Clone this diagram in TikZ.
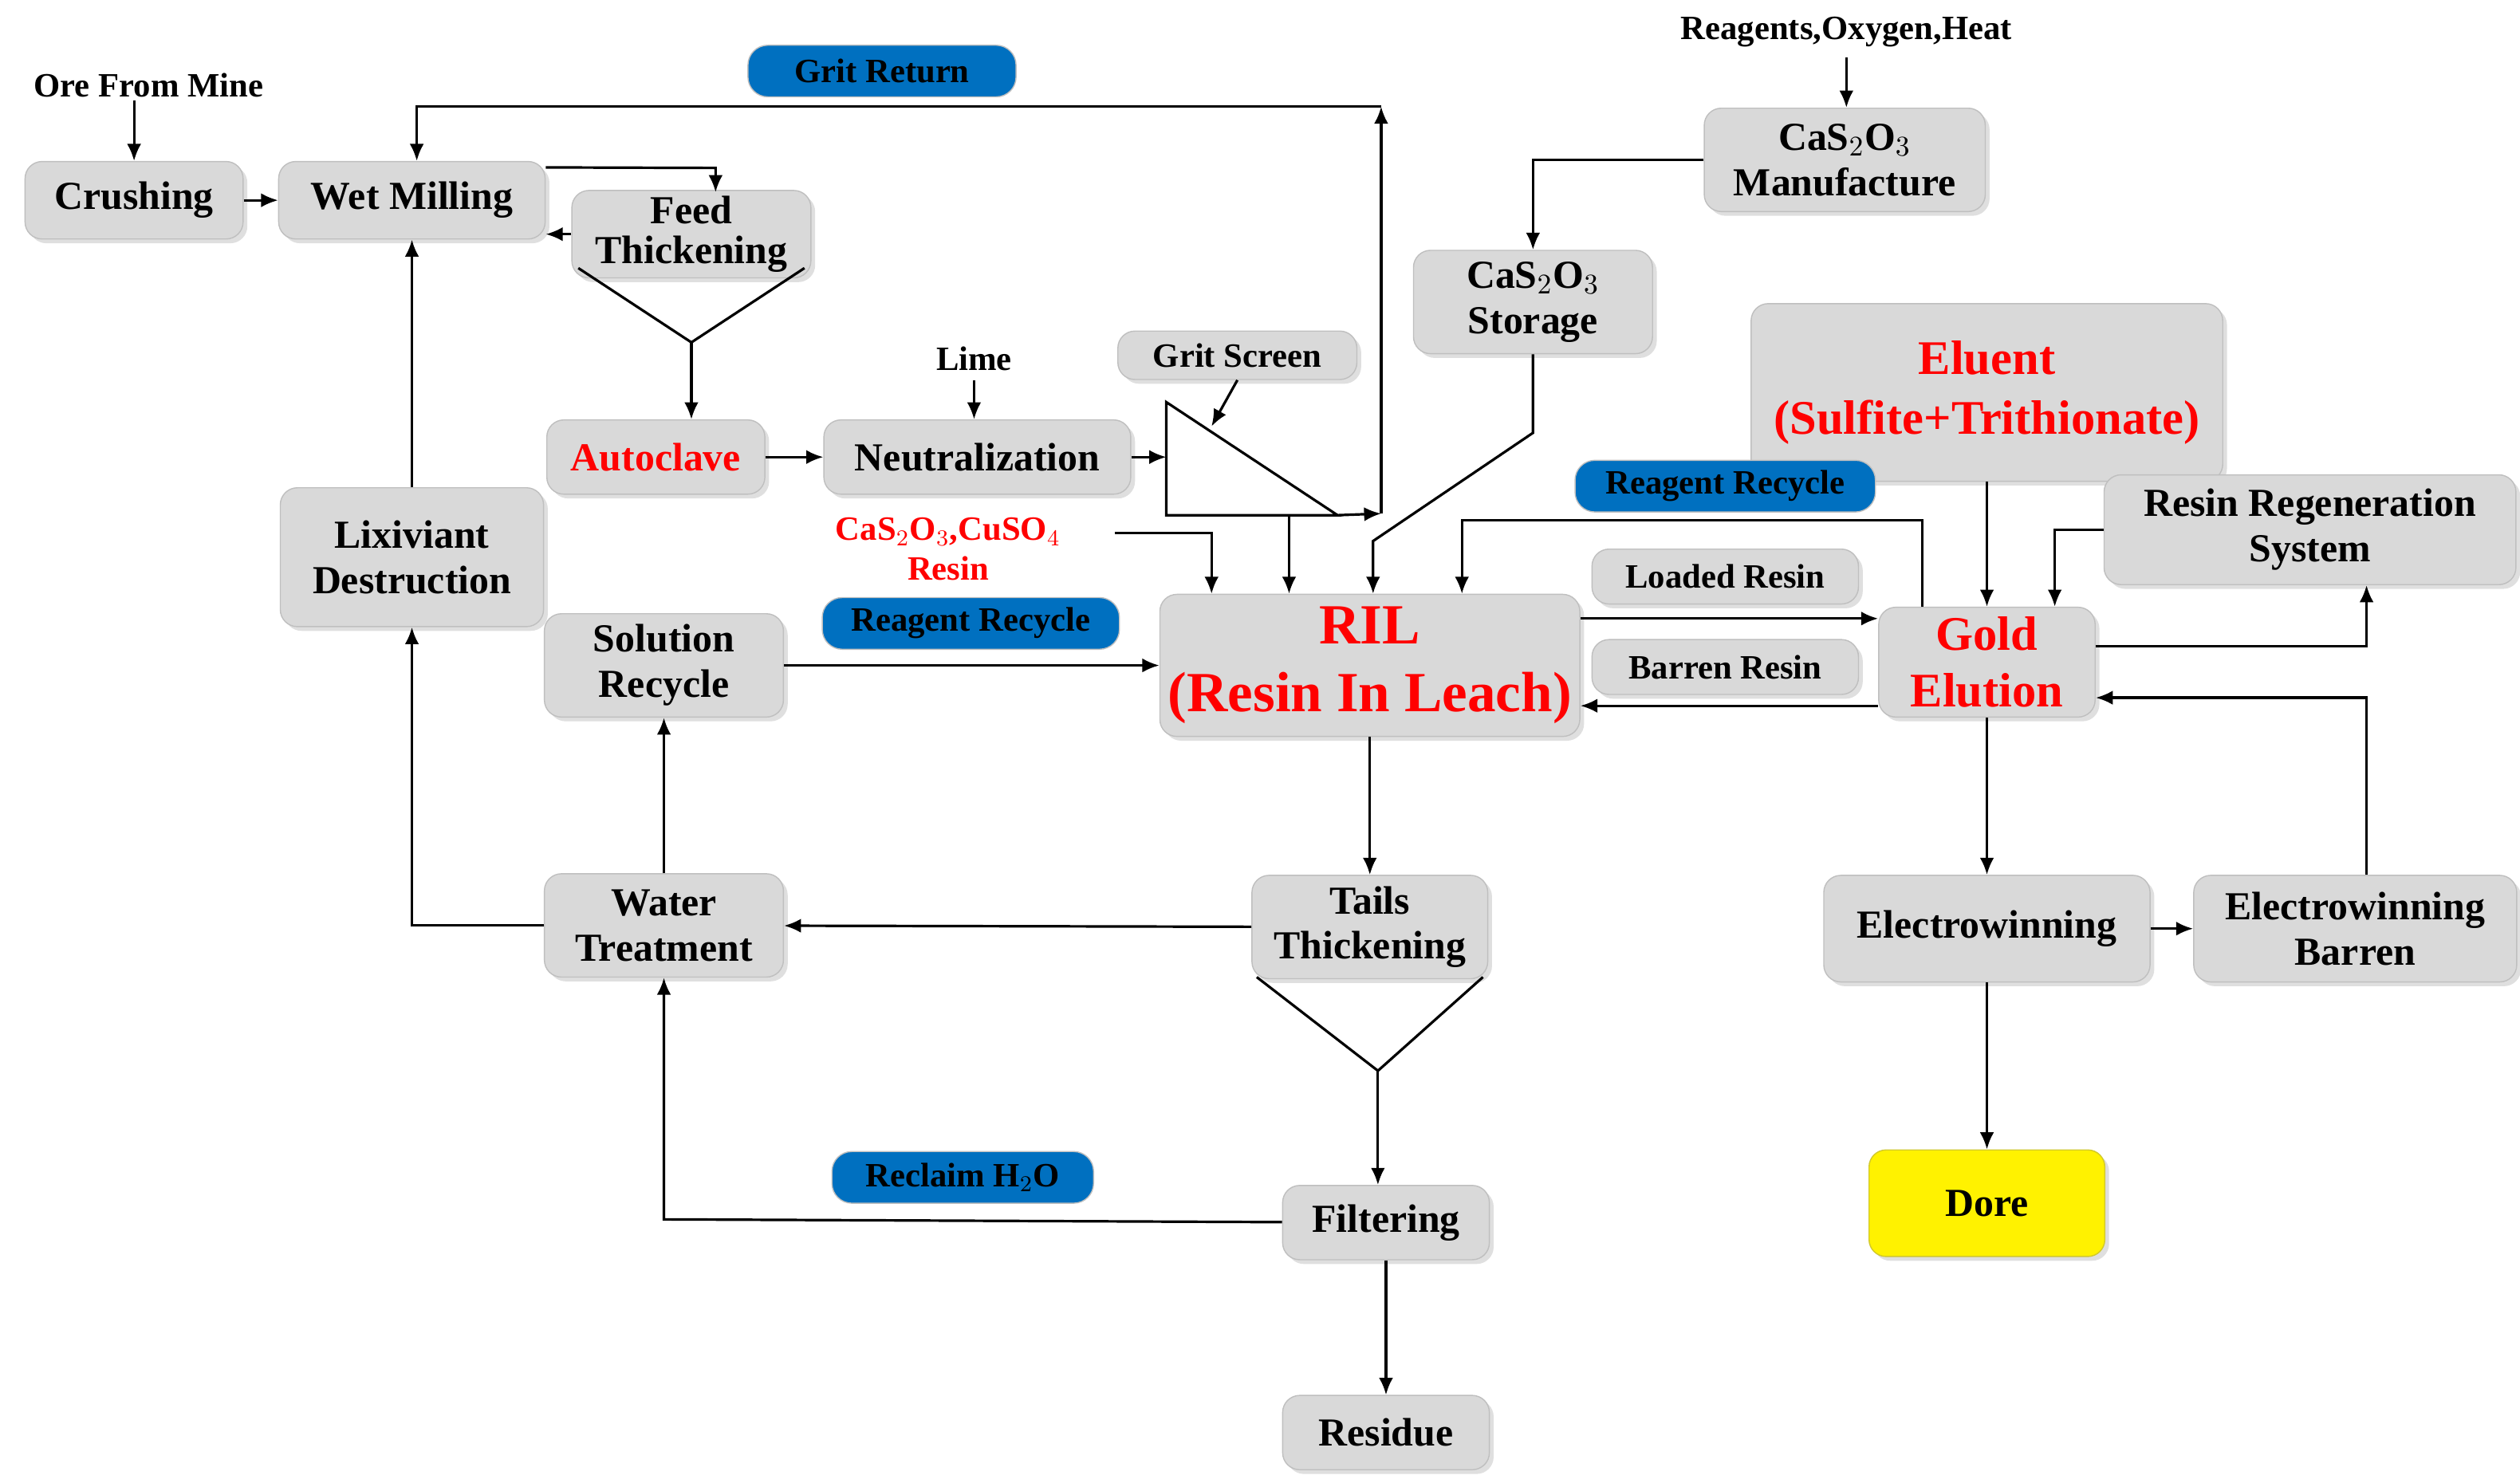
\documentclass[tikz,border=0pt]{standalone}
\usepackage{fontspec}
\setmainfont{Liberation Serif}
\usetikzlibrary{positioning,shadows,arrows.meta}
\definecolor{boxgray}{HTML}{D9D9D9}
\definecolor{boxline}{HTML}{BFBFBF}
\definecolor{tagblue}{HTML}{0070C0}
\tikzset{
  box/.style={draw=boxline, fill=boxgray, rounded corners=6pt, align=center,
    font=\fontsize{14}{16}\selectfont\bfseries, inner sep=2pt,
    drop shadow={shadow xshift=1.5pt, shadow yshift=-1.5pt, fill=black!25}},
  tag/.style={draw=boxline, fill=tagblue, rounded corners=7pt, align=center,
    font=\fontsize{12}{14}\selectfont\bfseries, minimum height=0.64cm},
  lbl/.style={align=center, font=\fontsize{12}{14}\selectfont\bfseries},
  flow/.style={-{Latex[length=6pt,width=5pt]}, line width=0.9pt},
  plain/.style={line width=0.9pt}
}
\begin{document}
\begin{tikzpicture}[x=0.02cm, y=-0.02cm]
  \useasboundingbox (0,0) rectangle (1560,918);

  % boxes of the grinding circuit
  \node[box, minimum width=2.7cm, minimum height=0.96cm] (crush) at (83,124) {Crushing};
  \node[box, minimum width=3.3cm, minimum height=0.96cm] (mill) at (255,124) {Wet Milling};
  \node[box, minimum width=2.96cm, minimum height=1.04cm] (feed) at (428,145) {Feed\\[-2pt]Thickening};
  \node[box, minimum width=2.7cm, minimum height=0.92cm, text=red] (auto) at (406,283) {Autoclave};
  \node[box, minimum width=3.8cm, minimum height=0.92cm] (neut) at (605,283) {Neutralization};
  \node[box, minimum width=2.96cm, minimum height=0.6cm, font=\fontsize{12}{14}\selectfont\bfseries] (grit) at (766,220) {Grit Screen};
  \node[box, minimum width=3.26cm, minimum height=1.72cm] (lix) at (255,345) {Lixiviant\\Destruction};
  \node[box, minimum width=2.96cm, minimum height=1.28cm] (solrec) at (411,412) {Solution\\Recycle};
  \node[box, minimum width=2.96cm, minimum height=1.28cm] (water) at (411,573) {Water\\Treatment};
  \node[box, minimum width=2.92cm, minimum height=1.28cm] (tails) at (848,574) {Tails\\Thickening};
  \node[box, minimum width=2.56cm, minimum height=0.92cm] (filt) at (858,757) {Filtering};
  \node[box, minimum width=2.56cm, minimum height=0.92cm] (resid) at (858,887) {Residue};

  % leach and elution
  \node[box, minimum width=5.2cm, minimum height=1.76cm, text=red, font=\fontsize{20}{24}\selectfont\bfseries] (ril) at (848,412) {RIL\\(Resin In Leach)};
  \node[box, minimum width=2.96cm, minimum height=1.28cm] (store) at (949,187) {CaS$_2$O$_3$\\Storage};
  \node[box, minimum width=3.48cm, minimum height=1.28cm] (manu) at (1142,99) {CaS$_2$O$_3$\\Manufacture};
  \node[box, minimum width=5.84cm, minimum height=2.2cm, text=red, font=\fontsize{17}{21}\selectfont\bfseries] (elu) at (1230,243) {Eluent\\(Sulfite+Trithionate)};
  \node[box, minimum width=5.1cm, minimum height=1.36cm] (regen) at (1430,328) {Resin Regeneration\\System};
  \node[box, minimum width=2.68cm, minimum height=1.36cm, text=red, font=\fontsize{17}{20}\selectfont\bfseries] (gold) at (1230,410) {Gold\\Elution};
  \node[box, minimum width=3.3cm, minimum height=0.68cm, font=\fontsize{12}{14}\selectfont\bfseries] (loaded) at (1068,357) {Loaded Resin};
  \node[box, minimum width=3.3cm, minimum height=0.68cm, font=\fontsize{12}{14}\selectfont\bfseries] (barren) at (1068,413) {Barren Resin};
  \node[box, minimum width=4.04cm, minimum height=1.32cm] (ew) at (1230,575) {Electrowinning};
  \node[box, minimum width=4cm, minimum height=1.32cm] (ewb) at (1458,575) {Electrowinning\\Barren};
  \node[box, minimum width=2.92cm, minimum height=1.32cm, fill=yellow, draw=yellow!80!black] (dore) at (1230,745) {Dore};

  % blue tags and free labels
  \node[tag, minimum width=3.32cm] (tgrit) at (546,44) {Grit Return};
  \node[tag, minimum width=3.72cm] (trec1) at (1068,301) {Reagent Recycle};
  \node[tag, minimum width=3.68cm] (trec2) at (601,386) {Reagent Recycle};
  \node[tag, minimum width=3.24cm] (tclaim) at (596,729) {Reclaim H$_2$O};
  \node[lbl] (ore) at (92,53) {Ore From Mine};
  \node[lbl] (lime) at (603,222) {Lime};
  \node[lbl] (rox) at (1143,20) {Reagents,Oxygen,Heat};
  \node[lbl, text=red] (cas) at (587,340) {CaS$_2$O$_3$,CuSO$_4$\\Resin};

  % cones and screen
  \draw[plain] (358,166) -- (428,212) -- (498,166);
  \coordinate (fcone) at (428,212);
  \draw[plain] (778,605) -- (853,663) -- (918,605);
  \coordinate (tcone) at (853,663);
  \draw[plain] (722,249) -- (722,319) -- (828,319) -- cycle;
  \coordinate (stip) at (828,319);

  % connectors
  \draw[flow] (83,62) -- (crush);
  \draw[flow] (crush) -- (mill);
  \draw[flow] (mill.north east) ++(0,4) -- (443,104) -- (443,119);
  \draw[flow] (feed.west) -- (mill.east |- feed.west);
  \draw[flow] (fcone) -- (auto.north -| fcone);
  \draw[flow] (auto) -- (neut);
  \draw[flow] (lime) -- (neut.north -| lime);
  \draw[flow] (neut) -- (722,283);
  \draw[flow] (grit.south) -- (750,264);
  \draw[flow] (798,319) -- (ril.north -| 798,0);
  \draw[flow] (stip) -- (855,318);
  \draw[flow] (855,318) -- (855,66);
  \draw[flow] (855,66) -- (258,66) -- (mill.north -| 258,0);
  \draw[flow] (store) -- (949,268) -- (850,335) -- (ril.north -| 850,0);
  \draw[flow] (690,330) -- (750,330) -- (ril.north -| 750,0);
  \draw[flow] (solrec) -- (ril.west |- solrec);
  \draw[flow] (manu.west) -- (949,99) -- (store);
  \draw[flow] (rox) -- (manu.north -| rox);
  \draw[flow] (elu) -- (gold);
  \draw[flow] (gold.north -| 1190,0) -- (1190,322) -- (905,322) -- (ril.north -| 905,0);
  \draw[flow] (ril.east |- 0,383) -- (gold.west |- 0,383);
  \draw[flow] (gold.west |- 0,437) -- (ril.east |- 0,437);
  \draw[flow] (regen.west) -- (1272,328) -- (gold.north -| 1272,0);
  \draw[flow] (gold.east |- 0,400) -- (1465,400) -- (regen.south -| 1465,0);
  \draw[flow] (ewb.north -| 1465,0) -- (1465,432) -- (gold.east |- 0,432);
  \draw[flow] (gold) -- (ew);
  \draw[flow] (ew) -- (ewb);
  \draw[flow] (ew) -- (dore);
  \draw[flow] (ril.south -| tails) -- (tails);
  \draw[flow] (tails) -- (water);
  \draw[flow] (tcone) -- (filt.north -| tcone);
  \draw[flow] (filt) -- (411,755) -- (water);
  \draw[flow] (filt) -- (resid);
  \draw[flow] (water) -- (solrec);
  \draw[flow] (water) -- (255,573) -- (lix);
  \draw[flow] (lix) -- (mill);
\end{tikzpicture}
\end{document}
